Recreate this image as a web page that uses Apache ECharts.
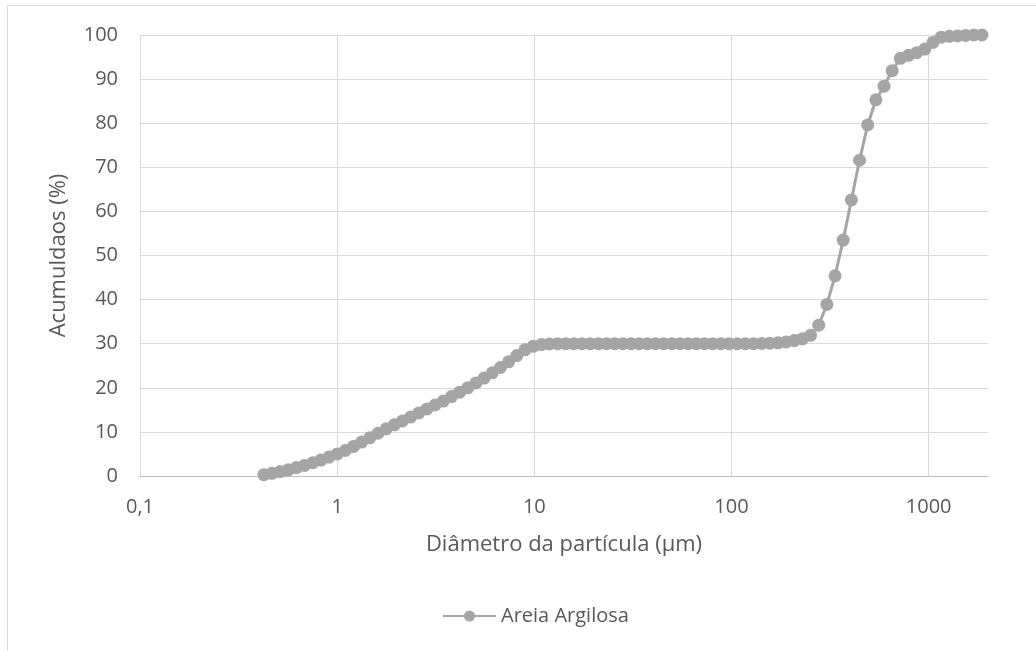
<!DOCTYPE html>
<html>
<head>
<meta charset="utf-8">
<script src="https://cdn.jsdelivr.net/npm/echarts@6/dist/echarts.min.js"></script>
<style>
  html, body { margin: 0; padding: 0; background: #fff; }
  #chart { width: 1036px; height: 651px; }
</style>
</head>
<body>
<div id="chart"></div>
<script>
// diâmetro (µm) de cada classe
var diametro = [
  0.4244, 0.4668, 0.5135, 0.5649, 0.6214, 0.6835, 0.7518, 0.8270, 0.9097, 1.0007,
  1.1008, 1.2109, 1.3319, 1.4651, 1.6117, 1.7728, 1.9501, 2.1451, 2.3596, 2.5956,
  2.8552, 3.1407, 3.4548, 3.8002, 4.1803, 4.5983, 5.0581, 5.5639, 6.1203, 6.7324,
  7.4056, 8.1462, 8.9608, 9.8569, 10.843, 11.927, 13.120, 14.432, 15.875, 17.462,
  19.209, 21.130, 23.243, 25.567, 28.124, 30.936, 34.030, 37.433, 41.176, 45.294,
  49.823, 54.805, 60.286, 66.315, 72.946, 80.241, 88.265, 97.091, 106.80, 117.48,
  129.23, 142.15, 156.37, 172.00, 189.20, 208.12, 228.94, 251.83, 277.01, 304.71,
  335.18, 368.70, 405.57, 446.13, 490.74, 539.82, 593.80, 653.18, 718.50, 790.35,
  869.38, 956.32, 1051.9, 1157.1, 1272.8, 1400.1, 1540.1, 1694.1, 1863.6
];
// acumulados (%)
var acumulado = [
  0.3, 0.6, 1.0, 1.4, 1.9, 2.4, 3.0, 3.6, 4.3, 5.0,
  5.8, 6.7, 7.7, 8.7, 9.7, 10.7, 11.6, 12.5, 13.4, 14.3,
  15.2, 16.1, 17.0, 18.0, 19.0, 20.0, 21.1, 22.2, 23.4, 24.6,
  25.9, 27.3, 28.6, 29.4, 29.8, 29.95, 30.0, 30.0, 30.0, 30.0,
  30.0, 30.0, 30.0, 30.0, 30.0, 30.0, 30.0, 30.0, 30.0, 30.0,
  30.0, 30.0, 30.0, 30.0, 30.0, 30.0, 30.0, 30.0, 30.0, 30.0,
  30.0, 30.05, 30.1, 30.2, 30.4, 30.7, 31.1, 31.9, 34.2, 38.9,
  45.4, 53.5, 62.6, 71.6, 79.6, 85.3, 88.4, 91.9, 94.7, 95.4,
  96.0, 96.8, 98.3, 99.5, 99.7, 99.8, 99.9, 100.0, 100.0
];
var nomeSerie = 'Areia Argilosa';

var pontos = diametro.map(function (d, i) { return [d, acumulado[i]]; });

var cinza = '#a5a5a5';
var texto = '#595959';
var fonte = '"Open Sans", "Noto Sans", sans-serif';

var myChart = echarts.init(document.getElementById('chart'));
var option = {
  animation: false,
  backgroundColor: '#fff',
  textStyle: { fontFamily: fonte },
  graphic: [{
    type: 'rect',
    shape: { x: 7.5, y: 5.5, width: 1200, height: 800 },
    style: { fill: 'none', stroke: '#d9d9d9', lineWidth: 1 },
    silent: true
  }],
  grid: { left: 140, right: 48, top: 35, bottom: 175 },
  legend: {
    left: 437,
    top: 601,
    itemWidth: 53,
    itemHeight: 14,
    textStyle: { color: texto, fontSize: 20, fontFamily: fonte },
    data: [nomeSerie]
  },
  xAxis: {
    type: 'log',
    logBase: 10,
    min: 0.1,
    max: 2000,
    name: 'Diâmetro da partícula (µm)',
    nameLocation: 'middle',
    nameGap: 58,
    nameTextStyle: { color: texto, fontSize: 22, fontFamily: fonte },
    axisLine: { show: true, lineStyle: { color: '#bfbfbf', width: 1 } },
    axisTick: { show: false },
    axisLabel: {
      color: texto, fontSize: 20, margin: 21, showMaxLabel: false,
      formatter: function (v) { return String(v).replace('.', ','); }
    },
    splitLine: { show: true, showMaxLine: false, lineStyle: { color: '#d9d9d9', width: 1 } },
    minorTick: { show: false },
    minorSplitLine: { show: false }
  },
  yAxis: {
    type: 'value',
    min: 0,
    max: 100,
    interval: 10,
    name: 'Acumuldaos (%)',
    nameLocation: 'middle',
    nameGap: 70,
    nameTextStyle: { color: texto, fontSize: 22, fontFamily: fonte },
    axisLine: { show: false },
    axisTick: { show: false },
    axisLabel: { color: texto, fontSize: 20, margin: 22 },
    splitLine: { lineStyle: { color: '#d9d9d9', width: 1 } }
  },
  series: [{
    name: nomeSerie,
    type: 'line',
    data: pontos,
    symbol: 'circle',
    symbolSize: 13,
    showAllSymbol: true,
    lineStyle: { color: cinza, width: 3 },
    itemStyle: { color: cinza, borderWidth: 0 },
    emphasis: { disabled: true }
  }]
};
myChart.setOption(option);
</script>
</body>
</html>
